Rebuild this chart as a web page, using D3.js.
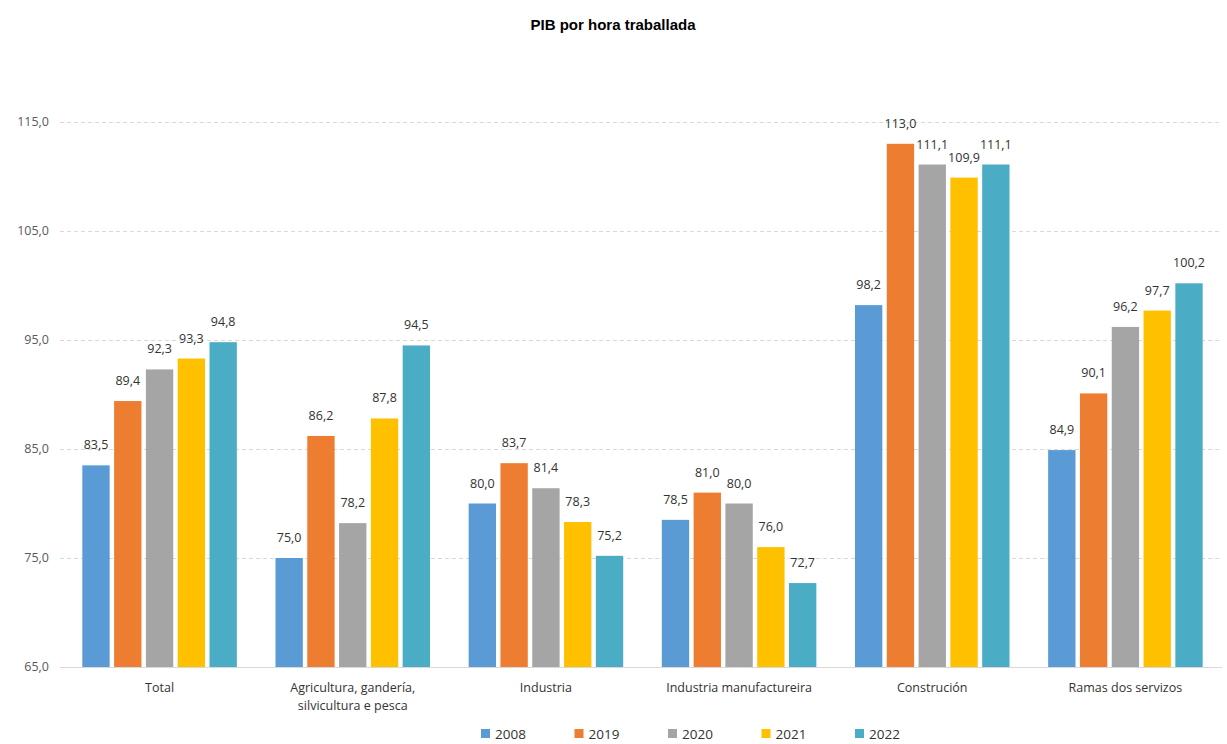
<html>
<head>
<meta charset="utf-8">
<title>PIB por hora traballada</title>
<style>
  body { margin: 0; background: #fff; }
  text { font-family: "Open Sans", "Noto Sans", sans-serif; }
</style>
</head>
<body>
<script src="https://d3js.org/d3.v7.min.js"></script>
<script>
var categories = [
  ["Total"],
  ["Agricultura, gandería,", "silvicultura e pesca"],
  ["Industria"],
  ["Industria manufactureira"],
  ["Construción"],
  ["Ramas dos servizos"]
];
var years = ["2008", "2019", "2020", "2021", "2022"];
var v2008 = [83.5, 75.0, 80.0, 78.5, 98.2, 84.9];
var v2019 = [89.4, 86.2, 83.7, 81.0, 113.0, 90.1];
var v2020 = [92.3, 78.2, 81.4, 80.0, 111.1, 96.2];
var v2021 = [93.3, 87.8, 78.3, 76.0, 109.9, 97.7];
var v2022 = [94.8, 94.5, 75.2, 72.7, 111.1, 100.2];
var yTicks = [65, 75, 85, 95, 105, 115];
var colors = ["#5B9BD5", "#ED7D31", "#A5A5A5", "#FFC000", "#4BACC6"];

var series = [v2008, v2019, v2020, v2021, v2022];
var fmt = function(v){ return d3.format(".1f")(v).replace(".", ","); };

var svg = d3.select("body").append("svg")
    .attr("width", 1227).attr("height", 744);

var plotLeft = 63, plotRight = 1222, plotTop = 122, plotBottom = 667;

var x0 = d3.scaleBand().domain(d3.range(categories.length))
    .range([plotLeft, plotRight]).paddingInner(0.2).paddingOuter(0.1);
var x1 = d3.scaleBand().domain(years)
    .range([0, x0.bandwidth()]).paddingInner(0.14);
var y = d3.scaleLinear().domain([65, 115]).range([plotBottom, plotTop]);

// title
svg.append("text")
    .attr("x", 613).attr("y", 30)
    .attr("text-anchor", "middle")
    .style("font-family", "Liberation Sans, Arial, sans-serif")
    .style("font-weight", "bold").style("font-size", "15px")
    .attr("fill", "#000")
    .text("PIB por hora traballada");

// gridlines
svg.selectAll("line.grid").data(yTicks.slice(1)).enter().append("line")
    .attr("class", "grid")
    .attr("x1", 60).attr("x2", plotRight)
    .attr("y1", function(d){ return Math.round(y(d)) + 0.5; })
    .attr("y2", function(d){ return Math.round(y(d)) + 0.5; })
    .attr("stroke", "#d9d9d9").attr("stroke-width", 1)
    .attr("stroke-dasharray", "4,3");

// y labels
svg.selectAll("text.ytick").data(yTicks).enter().append("text")
    .attr("class", "ytick")
    .attr("x", 49)
    .attr("y", function(d){ return y(d) + 4; })
    .attr("text-anchor", "end")
    .style("font-size", "12.5px")
    .attr("fill", "#595959")
    .text(fmt);

// bars
var groups = svg.selectAll("g.cat").data(categories).enter().append("g")
    .attr("class", "cat")
    .attr("transform", function(d, i){ return "translate(" + x0(i) + ",0)"; });

groups.each(function(c, i) {
  var g = d3.select(this);
  var vals = series.map(function(s, k){ return {year: years[k], v: s[i], k: k}; });
  g.selectAll("rect").data(vals).enter().append("rect")
      .attr("x", function(d){ return x1(d.year); })
      .attr("y", function(d){ return y(d.v); })
      .attr("width", x1.bandwidth())
      .attr("height", function(d){ return plotBottom - y(d.v); })
      .attr("fill", function(d){ return colors[d.k]; });
  g.selectAll("text.lab").data(vals).enter().append("text")
      .attr("class", "lab")
      .attr("x", function(d){ return x1(d.year) + x1.bandwidth() / 2; })
      .attr("y", function(d){ return y(d.v) - 16; })
      .attr("text-anchor", "middle")
      .style("font-size", "12.5px")
      .attr("fill", "#333")
      .text(function(d){ return fmt(d.v); });
  var t = g.append("text")
      .attr("x", x0.bandwidth() / 2)
      .attr("y", 692)
      .attr("text-anchor", "middle")
      .style("font-size", "12.5px")
      .attr("fill", "#333");
  c.forEach(function(line, j){
    t.append("tspan").attr("x", x0.bandwidth() / 2).attr("dy", j === 0 ? 0 : 18).text(line);
  });
});

// axis baseline
svg.append("line")
    .attr("x1", 60).attr("x2", plotRight)
    .attr("y1", plotBottom + 0.5).attr("y2", plotBottom + 0.5)
    .attr("stroke", "#d9d9d9").attr("stroke-width", 1);

// legend
var legend = svg.selectAll("g.leg").data(years).enter().append("g")
    .attr("class", "leg")
    .attr("transform", function(d, i){ return "translate(" + (481 + i * 93.5) + ",729)"; });
legend.append("rect").attr("width", 9).attr("height", 9)
    .attr("fill", function(d, i){ return colors[i]; });
legend.append("text").attr("x", 14).attr("y", 9.5)
    .style("font-size", "13.5px").attr("fill", "#333")
    .text(function(d){ return d; });
</script>
</body>
</html>
